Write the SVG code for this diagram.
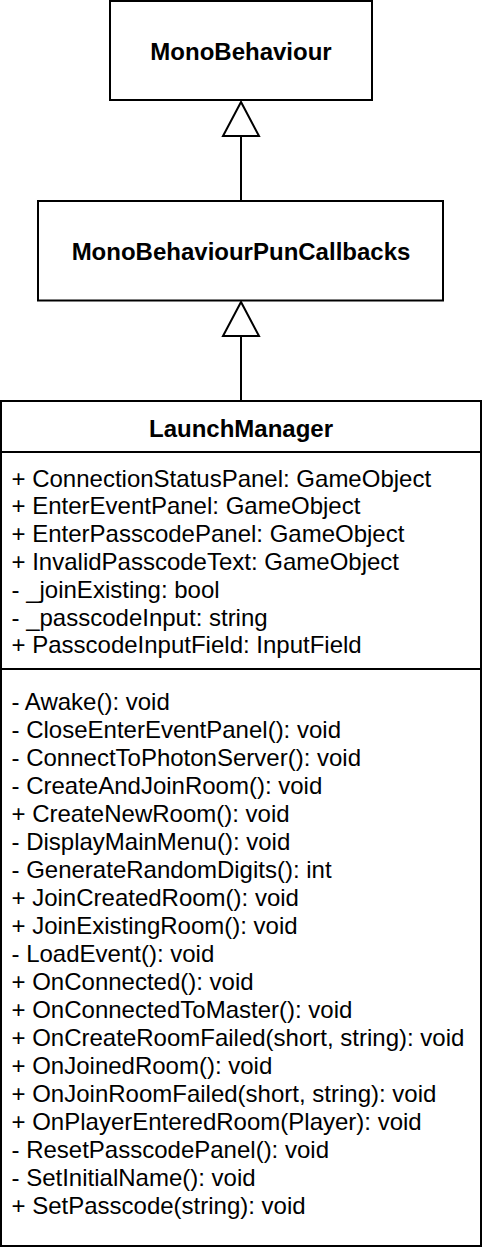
<svg xmlns="http://www.w3.org/2000/svg" width="482" height="1248" viewBox="0 0 482 1248">
<style>
.box{fill:#fff;stroke:#000;stroke-width:2}
.ln{fill:none;stroke:#000;stroke-width:2}
.tri{fill:#fff;stroke:#000;stroke-width:2;stroke-linejoin:miter}
.t{font-family:"Liberation Sans",Arial,sans-serif;font-size:24px;fill:#000}
.b{font-weight:bold;text-anchor:middle}
</style>
<rect width="482" height="1248" fill="#fff"/>
<g id="connectors">
<line class="ln" x1="241" y1="136" x2="241" y2="201"/>
<polygon class="tri" points="241,102 223,136 259,136"/>
<line class="ln" x1="241" y1="336" x2="241" y2="401"/>
<polygon class="tri" points="241,302 223,336 259,336"/>
</g>
<g id="MonoBehaviour">
<rect class="box" x="110" y="1" width="262" height="99"/>
<text class="t b" x="241" y="60">MonoBehaviour</text>
</g>
<g id="MonoBehaviourPunCallbacks">
<rect class="box" x="38" y="201" width="405" height="99.5"/>
<text class="t b" x="241" y="260">MonoBehaviourPunCallbacks</text>
</g>
<g id="LaunchManager">
<rect class="box" x="1" y="401" width="480" height="845"/>
<text class="t b" x="241" y="436.5">LaunchManager</text>
<line class="ln" x1="1" y1="452" x2="481" y2="452"/>
<line class="ln" x1="1" y1="669" x2="481" y2="669"/>
<text class="t" x="11.5" y="486.5">+ ConnectionStatusPanel: GameObject</text>
<text class="t" x="11.5" y="514.3">+ EnterEventPanel: GameObject</text>
<text class="t" x="11.5" y="542.1">+ EnterPasscodePanel: GameObject</text>
<text class="t" x="11.5" y="569.9">+ InvalidPasscodeText: GameObject</text>
<text class="t" x="11.5" y="597.7">- _joinExisting: bool</text>
<text class="t" x="11.5" y="625.5">- _passcodeInput: string</text>
<text class="t" x="11.5" y="653.3">+ PasscodeInputField: InputField</text>
<text class="t" x="11.5" y="709.5">- Awake(): void</text>
<text class="t" x="11.5" y="737.5">- CloseEnterEventPanel(): void</text>
<text class="t" x="11.5" y="765.5">- ConnectToPhotonServer(): void</text>
<text class="t" x="11.5" y="793.5">- CreateAndJoinRoom(): void</text>
<text class="t" x="11.5" y="821.5">+ CreateNewRoom(): void</text>
<text class="t" x="11.5" y="849.5">- DisplayMainMenu(): void</text>
<text class="t" x="11.5" y="877.5">- GenerateRandomDigits(): int</text>
<text class="t" x="11.5" y="905.5">+ JoinCreatedRoom(): void</text>
<text class="t" x="11.5" y="933.5">+ JoinExistingRoom(): void</text>
<text class="t" x="11.5" y="961.5">- LoadEvent(): void</text>
<text class="t" x="11.5" y="989.5">+ OnConnected(): void</text>
<text class="t" x="11.5" y="1017.5">+ OnConnectedToMaster(): void</text>
<text class="t" x="11.5" y="1045.5">+ OnCreateRoomFailed(short, string): void</text>
<text class="t" x="11.5" y="1073.5">+ OnJoinedRoom(): void</text>
<text class="t" x="11.5" y="1101.5">+ OnJoinRoomFailed(short, string): void</text>
<text class="t" x="11.5" y="1129.5">+ OnPlayerEnteredRoom(Player): void</text>
<text class="t" x="11.5" y="1157.5">- ResetPasscodePanel(): void</text>
<text class="t" x="11.5" y="1185.5">- SetInitialName(): void</text>
<text class="t" x="11.5" y="1213.5">+ SetPasscode(string): void</text>
</g>
</svg>
